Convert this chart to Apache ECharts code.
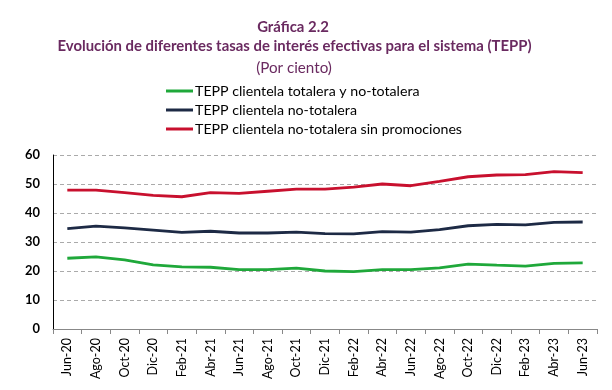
<!DOCTYPE html>
<html><head><meta charset="utf-8">
<script src="https://cdn.jsdelivr.net/npm/echarts@6/dist/echarts.min.js"></script>
<style>html,body{margin:0;padding:0;background:#fff}#c{width:612px;height:390px}</style>
</head><body><div id="c"></div>
<script>
const categories = ["Jun-20","Ago-20","Oct-20","Dic-20","Feb-21","Abr-21","Jun-21","Ago-21","Oct-21","Dic-21","Feb-22","Abr-22","Jun-22","Ago-22","Oct-22","Dic-22","Feb-23","Abr-23","Jun-23"];
const totalYNo = [24.4,24.9,23.8,22.1,21.4,21.3,20.5,20.5,21.0,20.0,19.8,20.5,20.5,21.1,22.4,22.0,21.7,22.6,22.8];
const noTotalera = [34.6,35.5,34.9,34.1,33.3,33.7,33.1,33.1,33.4,32.9,32.8,33.6,33.4,34.3,35.6,36.1,35.9,36.8,36.9];
const sinPromo = [47.9,47.9,47.0,46.1,45.6,47.0,46.8,47.5,48.2,48.2,48.9,50.0,49.4,50.9,52.5,53.1,53.2,54.3,53.9];
const seriesNames = ["TEPP clientela totalera y no-totalera","TEPP clientela no-totalera","TEPP clientela no-totalera sin promociones"];
const titleLines = ["Gráfica 2.2","Evolución de diferentes tasas de interés efectivas para el sistema (TEPP)","(Por ciento)"];
const yTicks = {min:0,max:60,interval:10};

const font = "Lato, 'Open Sans', sans-serif";
const purple = "#6a2a60";
const colors = ["#1fa83a","#1d2a45","#c8102e"];

// choose font sizes so that text widths match the reference
const ctx = document.createElement('canvas').getContext('2d');
function fit(text, weight, target){
  ctx.font = weight + ' 100px ' + font;
  return Math.round(100 * target / ctx.measureText(text).width * 10) / 10;
}
const titleSize = fit(titleLines[1], 'bold', 475);
const subSize = fit(titleLines[2], 'normal', 76);
const legendSize = fit(seriesNames[2], 'normal', 268);
const yLabSize = fit("60", 'bold', 15);
const xLabSize = 12.5;

const chart = echarts.init(document.getElementById('c'));
chart.setOption({
  animation:false,
  textStyle:{fontFamily:font},
  graphic:[
    {type:'text',x:293,y:27,style:{text:titleLines[0],textAlign:'center',textVerticalAlign:'middle',fill:purple,font:'bold '+titleSize+'px '+font}},
    {type:'text',x:294.5,y:46.5,style:{text:titleLines[1],textAlign:'center',textVerticalAlign:'middle',fill:purple,font:'bold '+titleSize+'px '+font}},
    {type:'text',x:294,y:68,style:{text:titleLines[2],textAlign:'center',textVerticalAlign:'middle',fill:purple,font:'normal '+subSize+'px '+font}}
  ],
  legend:{
    orient:'vertical',left:161,top:79,itemWidth:27,itemHeight:3,itemGap:5,
    icon:'rect',
    textStyle:{fontFamily:font,fontSize:legendSize,lineHeight:14,color:'#000',padding:[0,0,0,-3]},
    data:seriesNames
  },
  grid:{left:53,right:15,top:155,bottom:61},
  xAxis:{
    type:'category',data:categories,boundaryGap:true,
    axisLine:{lineStyle:{color:'#888',width:1}},
    axisTick:{show:true,length:5,lineStyle:{color:'#888'}},
    axisLabel:{rotate:90,interval:0,fontSize:xLabSize,color:'#000',fontFamily:font,margin:9}
  },
  yAxis:{
    type:'value',min:yTicks.min,max:yTicks.max,interval:yTicks.interval,
    axisLine:{show:true,lineStyle:{color:'#000',width:1}},
    axisTick:{show:false},
    axisLabel:{fontSize:yLabSize,fontWeight:'bold',color:'#000',fontFamily:font,margin:13},
    splitLine:{lineStyle:{type:[4,3],color:'#aaa',width:1}}
  },
  series:[totalYNo,noTotalera,sinPromo].map((d,i)=>({
    name:seriesNames[i],type:'line',data:d,symbol:'none',smooth:false,
    lineStyle:{color:colors[i],width:2.8},itemStyle:{color:colors[i]}
  }))
});
</script></body></html>
